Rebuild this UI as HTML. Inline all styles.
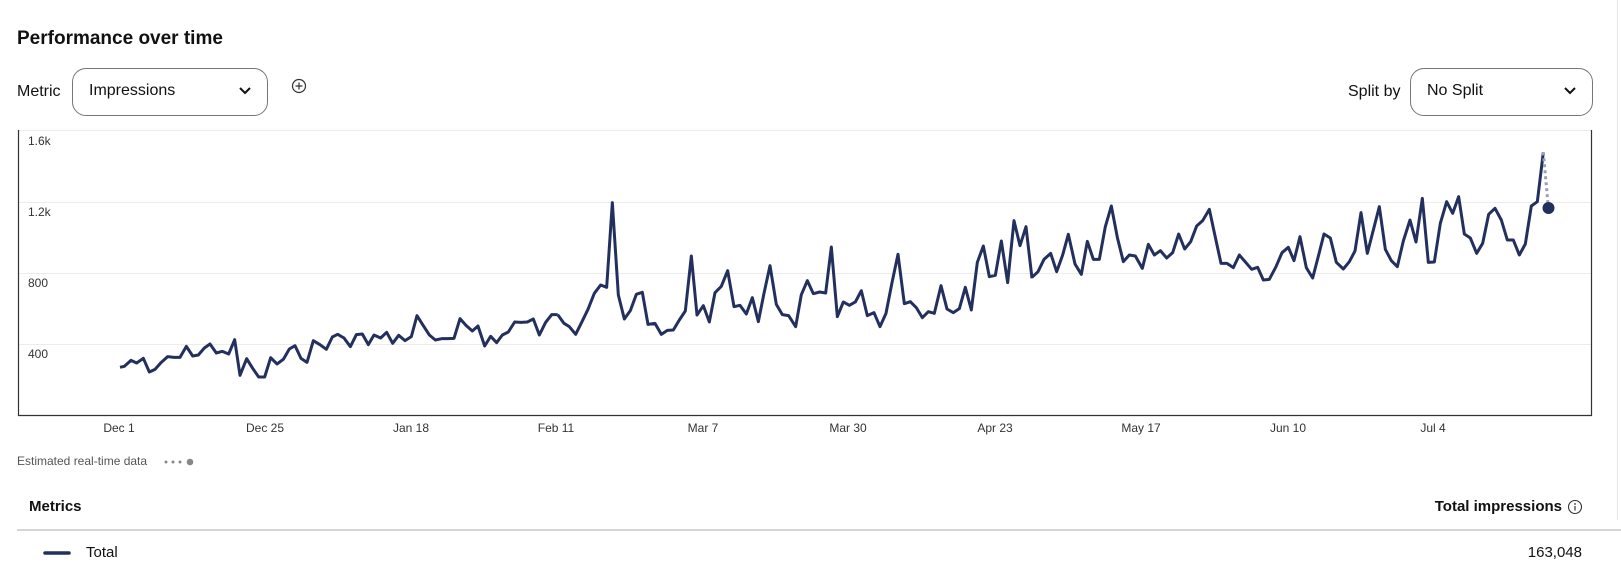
<!DOCTYPE html>
<html><head><meta charset="utf-8"><style>
body{margin:0;width:1621px;height:580px;background:#fff;font-family:"Liberation Sans",sans-serif;color:#111;position:relative;overflow:hidden}
.a{position:absolute;white-space:nowrap}
.dd{position:absolute;border:1px solid #767676;border-radius:14px;box-sizing:border-box;height:48px;top:68px}
.dd span{position:absolute;left:16px;top:13px;font-size:16px}
.dd svg{position:absolute;right:16px;top:18px}
.xl{position:absolute;top:421px;font-size:12px;color:#333;transform:translateX(-50%)}
.yl{position:absolute;left:28px;font-size:12px;color:#333}
</style></head><body>
<div class="a" style="left:17px;top:28px;font-size:19px;font-weight:bold">Performance over time</div>
<div class="a" style="left:17px;top:83px;font-size:16px">Metric</div>
<div class="dd" style="left:72px;width:196px"><span>Impressions</span><svg width="12" height="8"><path d="M1 1l5 5 5-5" stroke="#111" stroke-width="2" fill="none"/></svg></div>
<svg class="a" style="left:291px;top:78px" width="16" height="16"><circle cx="8" cy="8" r="6.5" stroke="#333" fill="none" stroke-width="1.2"/><path d="M8 4.5v7M4.5 8h7" stroke="#333" stroke-width="1.2"/></svg>
<div class="a" style="left:1348px;top:83px;font-size:16px">Split by</div>
<div class="dd" style="left:1410px;width:183px"><span>No Split</span><svg width="12" height="8"><path d="M1 1l5 5 5-5" stroke="#111" stroke-width="2" fill="none"/></svg></div>
<div class="a" style="left:1617px;top:0;width:1px;height:520px;background:#e6e6e6"></div>
<svg class="a" style="left:0;top:0" width="1621" height="580">
<g stroke="#ececec" stroke-width="1"><line x1="18" x2="1592" y1="130.5" y2="130.5"/><line x1="18" x2="1592" y1="202.5" y2="202.5"/><line x1="18" x2="1592" y1="273.5" y2="273.5"/><line x1="18" x2="1592" y1="344.5" y2="344.5"/></g>
<path d="M18.5 130V415.5H1591.5V130" stroke="#333" fill="none" stroke-width="1.2"/>
<g transform="translate(100,120) scale(0.33333)"><polyline vector-effect="non-scaling-stroke" fill="none" stroke="#23305e" stroke-width="3" stroke-linejoin="round" points="60,742 73,739 93,721 110,729 130,715 148,756 165,748 183,728 203,710 222,712 240,712 259,679 278,708 295,705 313,684 330,672 349,699 367,694 386,702 404,659 420,766 440,716 458,745 476,771 494,771 512,713 531,732 550,718 568,687 585,677 603,715 621,727 640,662 660,674 679,688 697,651 713,643 732,654 751,680 769,644 787,642 805,674 822,645 842,654 860,637 878,670 896,646 915,662 934,650 951,587 970,617 988,645 1006,660 1025,656 1044,656 1062,655 1080,596 1098,616 1117,633 1134,618 1154,678 1172,649 1190,668 1207,645 1225,636 1244,606 1263,607 1282,606 1300,597 1318,645 1337,607 1355,584 1373,584"/></g>
<g transform="translate(560,120) scale(0.33333)"><polyline vector-effect="non-scaling-stroke" fill="none" stroke="#23305e" stroke-width="3" stroke-linejoin="round" points="-7,584 12,610 28,620 47,643 65,607 84,568 103,520 122,495 140,502 157,248 175,525 193,597 211,572 229,523 247,517 264,613 285,610 304,643 322,631 340,630 358,600 376,573 394,408 411,585 430,557 448,606 465,518 484,499 503,452 522,560 540,556 559,582 577,533 595,605 612,520 630,437 649,553 667,584 686,587 707,620 724,524 742,482 760,521 779,516 797,519 814,381 832,590 850,546 868,556 886,546 904,512 922,587 942,578 960,620 978,580 996,488 1014,403 1033,551 1051,545 1069,563 1087,593 1105,575 1123,580 1143,497 1161,567 1180,578 1198,566 1216,502 1234,570 1252,427 1270,378 1288,470 1306,466 1324,363 1343,488 1362,302 1380,377 1398,320 1416,475"/></g>
<g transform="translate(1030,120) scale(0.33333)"><polyline vector-effect="non-scaling-stroke" fill="none" stroke="#23305e" stroke-width="3" stroke-linejoin="round" points="6,472 24,455 42,418 62,400 80,455 98,405 115,343 135,432 154,463 172,364 190,418 208,418 226,320 244,258 262,352 280,425 298,405 316,408 337,445 355,373 373,405 391,392 410,414 428,398 446,342 464,387 482,365 500,318 518,302 538,268 556,352 573,430 591,430 610,443 628,405 647,427 665,448 683,442 700,480 718,478 738,440 756,398 775,382 792,422 810,350 829,443 848,474 866,405 882,342 901,354 919,427 940,447 958,425 975,393 993,278 1012,400 1030,330 1048,260 1066,388 1084,422 1102,440 1120,363 1140,300 1158,366 1177,235 1195,427 1213,426 1231,310 1250,245 1268,280 1286,230 1303,342 1321,354 1340,400 1358,370 1376,283 1395,265 1414,300 1432,360 1450,360 1468,405 1486,372 1504,258 1522,245 1540,97"/>
<line vector-effect="non-scaling-stroke" x1="1540" y1="97" x2="1555" y2="262" stroke="#9aa0b5" stroke-width="3" stroke-dasharray="3 3"/></g>
<circle cx="1548.5" cy="208" r="6" fill="#23305e"/>
<g fill="#888"><circle cx="166" cy="462" r="1.5"/><circle cx="173" cy="462" r="1.5"/><circle cx="180" cy="462" r="1.5"/><circle cx="190" cy="462" r="3.3"/></g>
<line x1="17" x2="1621" y1="530" y2="530" stroke="#c8c8c8" stroke-width="1.5"/>
<line x1="45" x2="69" y1="553" y2="553" stroke="#23305e" stroke-width="3.5" stroke-linecap="round"/>
<circle cx="1575" cy="507" r="6.5" stroke="#333" fill="none" stroke-width="1.1"/><circle cx="1575" cy="504" r="0.9" fill="#333"/><line x1="1575" x2="1575" y1="506" y2="510.5" stroke="#333" stroke-width="1.2"/>
</svg>
<div class="yl" style="top:134px">1.6k</div><div class="yl" style="top:205px">1.2k</div><div class="yl" style="top:276px">800</div><div class="yl" style="top:347px">400</div>
<div class="xl" style="left:119px">Dec 1</div><div class="xl" style="left:265px">Dec 25</div><div class="xl" style="left:411px">Jan 18</div><div class="xl" style="left:556px">Feb 11</div><div class="xl" style="left:703px">Mar 7</div><div class="xl" style="left:848px">Mar 30</div><div class="xl" style="left:995px">Apr 23</div><div class="xl" style="left:1141px">May 17</div><div class="xl" style="left:1288px">Jun 10</div><div class="xl" style="left:1433px">Jul 4</div>
<div class="a" style="left:17px;top:454px;font-size:12px;color:#555">Estimated real-time data</div>
<div class="a" style="left:29px;top:498px;font-size:15px;font-weight:bold">Metrics</div>
<div class="a" style="right:59px;top:498px;font-size:15px;font-weight:bold">Total impressions</div>
<div class="a" style="left:86px;top:544px;font-size:15px">Total</div>
<div class="a" style="right:39px;top:544px;font-size:15px">163,048</div>
</body></html>
